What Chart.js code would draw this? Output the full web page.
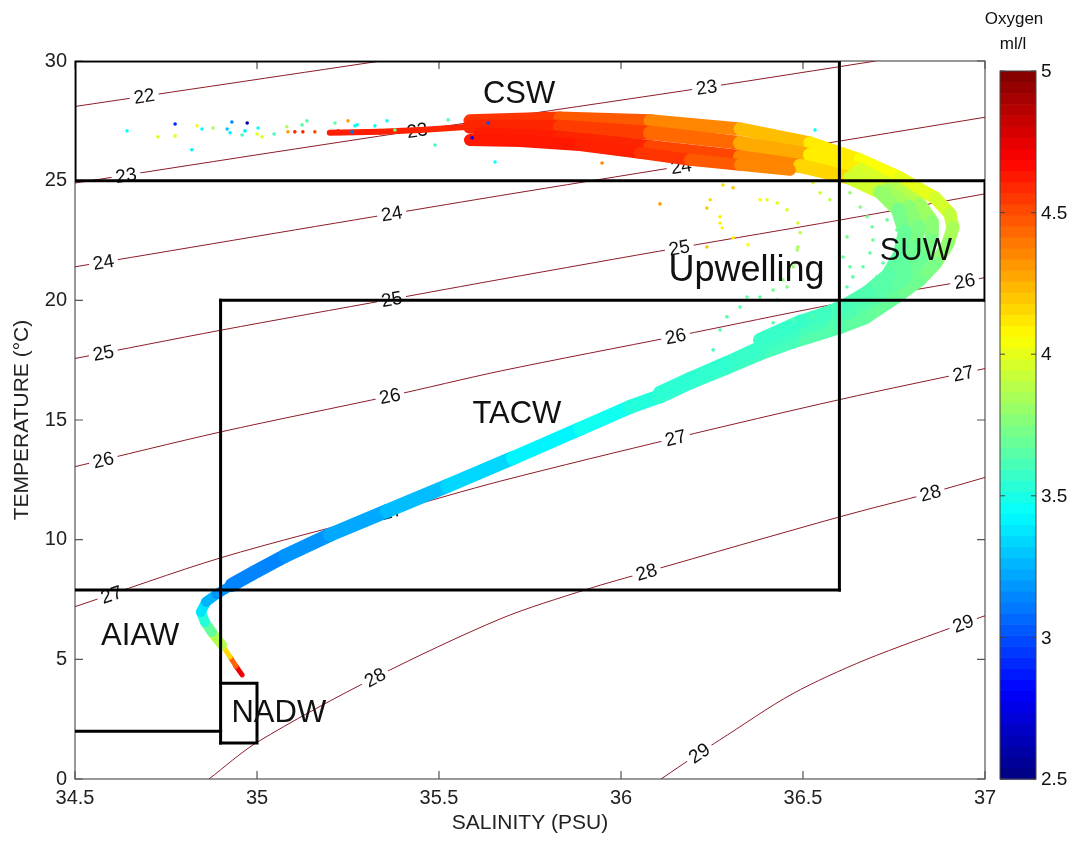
<!DOCTYPE html>
<html>
<head>
<meta charset="utf-8">
<title>T-S diagram</title>
<script src="https://cdn.jsdelivr.net/npm/chart.js@4.4.1/dist/chart.umd.min.js"></script>
<style>
  html, body { margin: 0; padding: 0; background: #fff; }
  #wrap { width: 1073px; height: 846px; }
</style>
</head>
<body>
<div id="wrap"><canvas id="tsCanvas" width="1073" height="846"></canvas></div>
<script>
// axis ranges
const salinityRange = [34.5, 37];
const temperatureRange = [0, 30];
const oxygenRange = [2.5, 5];
const oxygenTicks = [2.5, 3, 3.5, 4, 4.5, 5];

// isopycnals (sigma-t), [salinity, temperature]
const isopycnalLevels = [22, 23, 24, 25, 26, 27, 28, 29];
const sigma22 = [[34.5, 28.1], [34.92, 29.05], [35.34, 30]];
const sigma23 = [[34.5, 24.9], [35.0, 26.08], [35.44, 27.1], [35.67, 27.62], [36.235, 28.9], [36.7, 30]];
const sigma24 = [[34.5, 21.4], [35.37, 23.62], [35.67, 24.38], [36.165, 25.6], [36.47, 26.33], [37, 27.65]];
const sigma25 = [[34.5, 17.57], [34.9, 18.75], [35.37, 20.05], [35.67, 20.88], [36.16, 22.2], [36.6, 23.35], [37, 24.45]];
const sigma26 = [[34.5, 13.05], [34.9, 14.5], [35.365, 16.0], [35.67, 17.05], [36.15, 18.5], [36.6, 19.88], [36.944, 20.8], [37, 20.95]];
const sigma27 = [[34.5, 7.2], [34.9, 9.24], [35.37, 11.18], [35.67, 12.45], [36.15, 14.25], [36.6, 15.85], [37, 17.15]];
const sigma28 = [[34.868, 0], [35.0, 1.53], [35.324, 4.24], [35.67, 6.7], [35.905, 7.92], [36.07, 8.65], [36.6, 10.95], [36.85, 11.95], [37, 12.6]];
const sigma29 = [[36.11, 0], [36.215, 1.08], [36.27, 1.62], [36.47, 3.55], [36.67, 4.97], [36.94, 6.5], [37, 6.82]];
const isopycnalLines = [sigma22, sigma23, sigma24, sigma25, sigma26, sigma27, sigma28, sigma29];

// where the isopycnal labels sit: [level, salinity, temperature]
const isopycnalLabels = [
  [22, 34.69, 28.53],
  [23, 34.64, 25.22], [23, 35.44, 27.1], [23, 36.235, 28.9],
  [24, 34.578, 21.6], [24, 35.37, 23.62], [24, 36.165, 25.6],
  [25, 34.578, 17.8], [25, 35.37, 20.05], [25, 36.16, 22.2],
  [26, 34.578, 13.33], [26, 35.365, 16.0], [26, 36.15, 18.5], [26, 36.944, 20.8],
  [27, 34.6, 7.7], [27, 35.37, 11.18], [27, 36.15, 14.25], [27, 36.94, 16.95],
  [28, 35.324, 4.24], [28, 36.07, 8.65], [28, 36.85, 11.95],
  [29, 36.215, 1.08], [29, 36.94, 6.5]
];

// profile data: [salinity, temperature, oxygen ml/l]
const deepBranch = [
  [34.959, 4.35, 4.85], [34.942, 4.72, 4.6], [34.926, 5.10, 4.3], [34.904, 5.60, 4.0],
  [34.876, 6.14, 3.75], [34.857, 6.56, 3.6], [34.846, 6.98, 3.45], [34.86, 7.40, 3.3],
  [34.89, 7.73, 3.2], [34.931, 8.11, 3.15], [34.995, 8.65, 3.12], [35.077, 9.32, 3.15],
  [35.2, 10.20, 3.2], [35.357, 11.20, 3.25], [35.522, 12.24, 3.3], [35.703, 13.41, 3.38],
  [35.887, 14.63, 3.45], [36.025, 15.55, 3.5], [36.107, 16.0, 3.54]
];
const upperOuter = [
  [35.585, 27.50, 4.6], [35.832, 27.62, 4.52], [36.08, 27.50, 4.42], [36.327, 27.16, 4.3],
  [36.519, 26.58, 4.15], [36.657, 25.87, 4.07], [36.766, 25.12, 4.02], [36.863, 24.28, 3.98],
  [36.904, 23.61, 3.94], [36.912, 23.03, 3.88], [36.898, 22.36, 3.82], [36.865, 21.56, 3.76],
  [36.821, 20.85, 3.72], [36.753, 20.10, 3.7], [36.67, 19.26, 3.68], [36.599, 18.85, 3.66],
  [36.473, 18.26, 3.62], [36.382, 17.76, 3.6], [36.291, 17.17, 3.58], [36.19, 16.55, 3.56],
  [36.107, 15.96, 3.55]
];
const upperMiddle = [
  [35.585, 27.25, 4.62], [35.832, 27.25, 4.58], [36.08, 27.0, 4.5], [36.327, 26.58, 4.36],
  [36.519, 26.08, 4.18], [36.657, 25.45, 4.03], [36.753, 24.70, 3.92], [36.821, 23.99, 3.85],
  [36.854, 23.28, 3.8], [36.854, 22.52, 3.75], [36.827, 21.77, 3.72], [36.78, 20.98, 3.68],
  [36.712, 20.18, 3.66], [36.629, 19.51, 3.64], [36.547, 19.10, 3.62], [36.473, 18.64, 3.6],
  [36.382, 18.01, 3.58], [36.291, 17.38, 3.56], [36.19, 16.72, 3.55], [36.107, 16.13, 3.54]
];
const apexCore = [
  [36.643, 25.28, 4.04], [36.732, 24.62, 3.88], [36.79, 23.9, 3.8], [36.817, 23.07, 3.75],
  [36.81, 22.2, 3.72], [36.78, 21.4, 3.69], [36.73, 20.65, 3.66], [36.66, 19.95, 3.64],
  [36.6, 19.6, 3.62]
];
const upperInner = [
  [35.613, 26.95, 4.62], [35.832, 26.79, 4.62], [36.08, 26.41, 4.58], [36.327, 25.99, 4.45],
  [36.492, 25.62, 4.28], [36.629, 25.12, 4.05], [36.712, 24.53, 3.85], [36.761, 23.78, 3.75],
  [36.78, 22.86, 3.7], [36.766, 21.90, 3.68], [36.734, 21.06, 3.66], [36.679, 20.35, 3.64],
  [36.615, 19.77, 3.62], [36.56, 19.43, 3.6], [36.492, 19.10, 3.58], [36.382, 18.35, 3.56]
];
const upperLower = [
  [35.585, 26.70, 4.62], [35.723, 26.66, 4.64], [35.887, 26.49, 4.62], [36.052, 26.16, 4.6],
  [36.19, 25.87, 4.52], [36.327, 25.66, 4.42], [36.464, 25.45, 4.3]
];
const surfaceStreak = [
  [35.2, 27.0, 4.62], [35.338, 27.04, 4.62], [35.448, 27.12, 4.6], [35.585, 27.25, 4.6]
];

// scattered single casts: [salinity, temperature, oxygen]
const surfaceDots = [
  [34.643, 27.08, 3.45], [34.728, 26.83, 4.0], [34.775, 27.37, 2.9], [34.775, 26.87, 4.0],
  [34.821, 26.29, 3.4], [34.835, 27.29, 4.0], [34.849, 27.16, 3.45], [34.879, 27.20, 3.85],
  [34.918, 27.16, 3.3], [34.931, 27.45, 3.15], [34.926, 27.0, 3.4], [34.973, 27.41, 2.6],
  [34.967, 27.08, 3.4], [34.959, 26.91, 3.6], [35.003, 27.20, 3.45], [35.0, 26.95, 4.0],
  [35.014, 26.83, 4.0], [35.047, 26.95, 3.6], [35.082, 27.25, 3.85], [35.085, 27.04, 4.3],
  [35.104, 27.04, 4.6], [35.124, 27.33, 3.65], [35.126, 27.04, 4.6], [35.137, 27.50, 3.65],
  [35.159, 27.04, 4.5], [35.214, 27.41, 3.65], [35.223, 27.08, 4.6], [35.25, 27.50, 4.3],
  [35.269, 27.29, 3.45], [35.275, 27.33, 3.45], [35.261, 27.04, 3.1], [35.324, 27.29, 3.45],
  [35.357, 27.50, 3.45], [35.379, 27.12, 3.7], [35.489, 26.49, 3.6], [35.525, 27.54, 3.65],
  [35.591, 26.79, 2.8], [35.635, 27.41, 3.0], [35.654, 25.78, 3.45], [36.533, 27.12, 3.45],
  [35.948, 25.74, 4.35]
];
const upwellingDots = [
  [36.107, 24.03, 4.3], [36.236, 23.86, 4.2], [36.28, 24.82, 4.15], [36.308, 24.70, 4.2],
  [36.245, 24.20, 4.15], [36.272, 23.49, 4.1], [36.272, 23.23, 4.1], [36.278, 23.03, 4.05],
  [36.236, 22.23, 4.2], [36.308, 22.61, 4.1], [36.349, 22.32, 4.05], [36.382, 24.20, 4.05],
  [36.401, 24.20, 4.0], [36.429, 24.07, 4.0], [36.456, 23.78, 3.98], [36.486, 23.23, 3.95],
  [36.492, 22.82, 3.9], [36.486, 22.23, 3.85], [36.484, 22.11, 3.85], [36.478, 21.56, 3.8],
  [36.473, 21.40, 3.8], [36.456, 20.56, 3.75], [36.445, 20.85, 3.78], [36.429, 20.02, 3.72],
  [36.418, 20.43, 3.7], [36.382, 20.14, 3.68], [36.346, 20.14, 3.68], [36.327, 19.72, 3.66],
  [36.291, 19.31, 3.65], [36.272, 18.76, 3.63], [36.253, 17.93, 3.6], [36.225, 17.09, 3.58],
  [36.346, 17.80, 3.6], [36.39, 18.05, 3.62], [36.418, 19.06, 3.64], [36.473, 19.18, 3.65],
  [36.527, 19.31, 3.66]
];
const suwDots = [
  [36.629, 24.49, 3.8], [36.657, 23.90, 3.75], [36.676, 23.49, 3.72], [36.69, 23.07, 3.7],
  [36.692, 22.52, 3.7], [36.684, 21.98, 3.68], [36.665, 21.40, 3.67], [36.637, 20.98, 3.66],
  [36.621, 20.56, 3.65], [36.731, 23.36, 3.68], [36.758, 22.94, 3.68], [36.72, 21.56, 3.66],
  [36.703, 20.98, 3.65], [36.665, 20.43, 3.64], [36.621, 22.65, 3.72], [36.61, 21.81, 3.7],
  [36.629, 21.40, 3.68], [36.527, 24.91, 4.0], [36.547, 24.49, 3.95], [36.574, 24.20, 3.9]
];

// water-mass boundaries: each a polyline of [salinity, temperature]
const boxSegments = [
  [[34.5, 25], [34.5, 30], [36.6, 30]],
  [[34.5, 25], [37, 25]],
  [[34.9, 20], [37, 20]],
  [[37, 20], [37, 25]],
  [[36.6, 30], [36.6, 7.9]],
  [[34.5, 7.9], [36.6, 7.9]],
  [[34.9, 20], [34.9, 1.5]],
  [[34.9, 4], [35.0, 4], [35.0, 1.5], [34.9, 1.5]],
  [[34.5, 2], [34.9, 2]]
];

// water-mass names and where they are written
const massNames = ['CSW', 'Upwelling', 'SUW', 'TACW', 'AIAW', 'NADW'];
const massSalinity = [35.72, 36.345, 36.81, 35.714, 34.679, 35.06];
const massTemperature = [28.6, 21.22, 22.05, 15.25, 5.95, 2.74];

const FONT = '"Liberation Sans", Arial, Helvetica, sans-serif';

// MATLAB jet colour map
function jet(o) {
  let v = (o - oxygenRange[0]) / (oxygenRange[1] - oxygenRange[0]);
  v = Math.max(0, Math.min(1, v));
  const c = (a) => Math.round(255 * Math.max(0, Math.min(1, a)));
  const r = c(Math.min(4 * v - 1.5, -4 * v + 4.5));
  const g = c(Math.min(4 * v - 0.5, -4 * v + 3.5));
  const b = c(Math.min(4 * v + 0.5, -4 * v + 2.5));
  return `rgb(${r},${g},${b})`;
}

const toPoints = (arr) => arr.map((p) => ({ x: p[0], y: p[1], o: p[2] }));

// a band of the profile cloud, drawn as a thick line coloured by oxygen
function bandDataset(arr, width, widthByTemp) {
  return {
    type: 'line',
    data: toPoints(arr),
    showLine: true,
    pointRadius: 0,
    borderWidth: width,
    borderCapStyle: 'round',
    borderJoinStyle: 'round',
    borderColor: jet(arr[0][2]),
    segment: {
      borderColor: (ctx) => jet((ctx.p0.raw.o + ctx.p1.raw.o) / 2),
      borderWidth: (ctx) => (widthByTemp ? widthByTemp(ctx.p0.raw.y) : width)
    },
    order: 5
  };
}

function dotDataset(arr) {
  return {
    type: 'scatter',
    data: toPoints(arr),
    pointRadius: 1.8,
    pointBorderWidth: 0,
    pointBackgroundColor: (ctx) => (ctx.raw ? jet(ctx.raw.o) : '#000'),
    order: 4
  };
}

const datasets = [];

isopycnalLines.forEach((line, i) => {
  datasets.push({
    type: 'line',
    label: 'sigma ' + isopycnalLevels[i],
    data: line.map((p) => ({ x: p[0], y: p[1] })),
    showLine: true,
    pointRadius: 0,
    borderColor: 'rgb(140, 28, 40)',
    borderWidth: 1,
    tension: 0.3,
    order: 20
  });
});

// empty marker dataset: labels of the isopycnals are painted right after it
datasets.push({ type: 'line', label: 'isopycnal labels', data: [], order: 15 });

datasets.push(bandDataset(surfaceStreak, 6));
datasets.push(bandDataset(upperLower, 12));
datasets.push(bandDataset(upperInner, 14));
datasets.push(bandDataset(apexCore, 14));
datasets.push(bandDataset(upperMiddle, 14));
datasets.push(bandDataset(upperOuter, 13));
datasets.push(bandDataset(deepBranch, 14, (t) => (t < 5.4 ? 5 : t < 8 ? 10 : 14)));
datasets.push(dotDataset(surfaceDots));
datasets.push(dotDataset(upwellingDots));
datasets.push(dotDataset(suwDots));

boxSegments.forEach((seg) => {
  datasets.push({
    type: 'line',
    data: seg.map((p) => ({ x: p[0], y: p[1] })),
    showLine: true,
    pointRadius: 0,
    borderColor: '#000',
    borderWidth: 3,
    borderCapStyle: 'square',
    order: 1
  });
});

function drawIsopycnalLabels(chart) {
  const { ctx, scales: { x, y } } = chart;
  ctx.save();
  ctx.beginPath();
  ctx.rect(chart.chartArea.left, chart.chartArea.top, chart.chartArea.width, chart.chartArea.height);
  ctx.clip();
  ctx.font = '19px ' + FONT;
  ctx.textAlign = 'center';
  ctx.textBaseline = 'middle';
  isopycnalLabels.forEach(([level, s, t]) => {
    const line = isopycnalLines[isopycnalLevels.indexOf(level)];
    let i = 0;
    while (i < line.length - 2 && line[i + 1][0] < s) i++;
    const ax = x.getPixelForValue(line[i][0]);
    const ay = y.getPixelForValue(line[i][1]);
    const bx = x.getPixelForValue(line[i + 1][0]);
    const by = y.getPixelForValue(line[i + 1][1]);
    const angle = Math.atan2(by - ay, bx - ax);
    const text = String(level);
    const w = ctx.measureText(text).width;
    ctx.save();
    ctx.translate(x.getPixelForValue(s), y.getPixelForValue(t));
    ctx.rotate(angle);
    ctx.fillStyle = '#fff';
    ctx.fillRect(-w / 2 - 4, -5, w + 8, 10);
    ctx.fillStyle = '#111';
    ctx.fillText(text, 0, 1);
    ctx.restore();
  });
  ctx.restore();
}

function drawFrame(chart) {
  const { ctx, chartArea: a, scales: { x, y } } = chart;
  ctx.save();
  ctx.strokeStyle = '#555';
  ctx.lineWidth = 1.2;
  ctx.strokeRect(a.left, a.top, a.width, a.height);
  const tick = 8;
  ctx.beginPath();
  x.ticks.forEach((t) => {
    const px = x.getPixelForValue(t.value);
    ctx.moveTo(px, a.bottom); ctx.lineTo(px, a.bottom - tick);
    ctx.moveTo(px, a.top); ctx.lineTo(px, a.top + tick);
  });
  y.ticks.forEach((t) => {
    const py = y.getPixelForValue(t.value);
    ctx.moveTo(a.left, py); ctx.lineTo(a.left + tick, py);
    ctx.moveTo(a.right, py); ctx.lineTo(a.right - tick, py);
  });
  ctx.stroke();
  ctx.restore();
}

function drawMassNames(chart) {
  const { ctx, scales: { x, y } } = chart;
  ctx.save();
  ctx.fillStyle = '#111';
  ctx.textAlign = 'center';
  ctx.textBaseline = 'middle';
  massNames.forEach((name, i) => {
    ctx.font = (name === 'Upwelling' ? '36px ' : '31px ') + FONT;
    ctx.fillText(name, x.getPixelForValue(massSalinity[i]), y.getPixelForValue(massTemperature[i]));
  });
  ctx.restore();
}

function drawColorbar(chart) {
  const { ctx } = chart;
  const left = 1000, right = 1036, top = 71, bottom = 779;
  const steps = 64;
  const h = (bottom - top) / steps;
  ctx.save();
  for (let k = 0; k < steps; k++) {
    const o = oxygenRange[0] + (k + 0.5) / steps * (oxygenRange[1] - oxygenRange[0]);
    ctx.fillStyle = jet(o);
    ctx.fillRect(left, bottom - (k + 1) * h, right - left, h + 0.6);
  }
  ctx.strokeStyle = '#444';
  ctx.lineWidth = 1;
  ctx.strokeRect(left, top, right - left, bottom - top);
  ctx.font = '19px ' + FONT;
  ctx.fillStyle = '#111';
  ctx.textAlign = 'left';
  ctx.textBaseline = 'middle';
  oxygenTicks.forEach((v) => {
    const py = bottom - (v - oxygenRange[0]) / (oxygenRange[1] - oxygenRange[0]) * (bottom - top);
    ctx.beginPath();
    ctx.moveTo(left, py); ctx.lineTo(left + 5, py);
    ctx.moveTo(right, py); ctx.lineTo(right - 5, py);
    ctx.stroke();
    ctx.fillText(String(v), right + 5, py + 1);
  });
  ctx.font = '17px ' + FONT;
  ctx.textAlign = 'center';
  ctx.fillText('Oxygen', 1014, 19);
  ctx.fillText('ml/l', 1013, 44);
  ctx.restore();
}

const tsDecorations = {
  id: 'tsDecorations',
  beforeDatasetsDraw(chart) {
    drawFrame(chart);
  },
  afterDatasetDraw(chart, args) {
    if (chart.data.datasets[args.index].label === 'isopycnal labels') {
      drawIsopycnalLabels(chart);
    }
  },
  afterDraw(chart) {
    drawMassNames(chart);
    drawColorbar(chart);
  }
};

const plainNumber = (value) => String(Math.round(value * 10) / 10);

new Chart(document.getElementById('tsCanvas'), {
  type: 'scatter',
  data: { datasets: datasets },
  options: {
    responsive: false,
    animation: false,
    devicePixelRatio: 1,
    layout: { padding: { top: 61, right: 88, left: 0, bottom: 0 } },
    plugins: {
      legend: { display: false },
      tooltip: { enabled: false }
    },
    scales: {
      x: {
        type: 'linear',
        min: salinityRange[0],
        max: salinityRange[1],
        ticks: { stepSize: 0.5, font: { size: 20, family: FONT }, color: '#222', padding: 7, callback: plainNumber },
        grid: { display: false, drawTicks: false },
        border: { display: false },
        title: {
          display: true,
          text: 'SALINITY (PSU)',
          font: { size: 21, family: FONT },
          color: '#222',
          padding: { top: 0, bottom: 10 }
        },
        afterFit: (scale) => { scale.height = 67; }
      },
      y: {
        type: 'linear',
        min: temperatureRange[0],
        max: temperatureRange[1],
        ticks: { stepSize: 5, font: { size: 20, family: FONT }, color: '#222', padding: 8, callback: plainNumber },
        grid: { display: false, drawTicks: false },
        border: { display: false },
        title: {
          display: true,
          text: 'TEMPERATURE (°C)',
          font: { size: 21, family: FONT },
          color: '#222',
          padding: { top: 10, bottom: 0 }
        },
        afterFit: (scale) => { scale.width = 75; }
      }
    }
  },
  plugins: [tsDecorations]
});
</script>
</body>
</html>
